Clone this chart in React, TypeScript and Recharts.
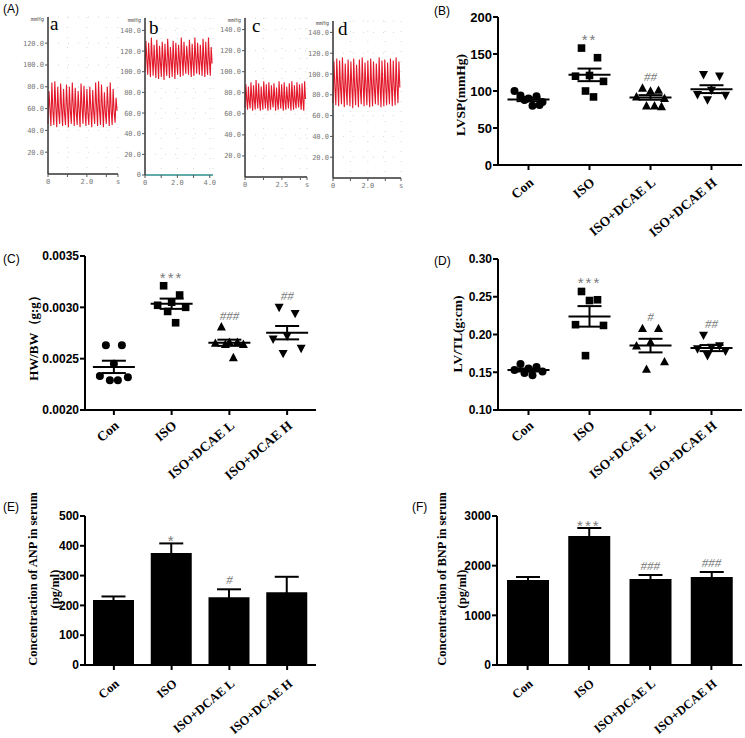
import React from 'react';
import {
  ScatterChart, Scatter, XAxis, YAxis, ErrorBar, ComposedChart, Bar, Line, LineChart, CartesianGrid,
} from 'recharts';

// ---------- data ----------
const categories = ['Con', 'ISO', 'ISO+DCAE L', 'ISO+DCAE H'];

// (A) left-ventricular pressure traces, mmHg (trough, peak, notch per beat)
const traceA = [46,76,60, 44,84,58, 45,85,62, 43,80,57, 46,83,60, 44,78,56, 45,82,61, 43,80,58, 46,84,62, 44,79,57, 45,76,59, 43,83,61,
  46,81,58, 44,78,56, 45,80,60, 43,77,57, 46,84,62, 44,85,59, 45,82,61, 43,75,56, 46,80,60, 44,84,58, 45,78,57, 47,70,58];
const traceB = [100,130,112, 97,128,110, 95,133,113, 96,126,108, 94,131,111, 93,125,109, 95,129,112, 92,127,108, 96,132,113, 94,124,110,
  95,130,111, 93,128,109, 97,126,112, 95,133,114, 96,129,110, 98,125,111, 97,131,112, 95,127,109, 96,133,113, 98,128,111, 97,126,110,
  96,132,112, 95,129,109, 97,133,111, 96,124,108];
const traceC = [66,88,74, 64,86,72, 65,90,75, 63,87,73, 64,92,74, 65,89,72, 63,86,73, 64,91,75, 65,88,72, 63,90,74, 64,87,73, 66,89,75,
  63,85,72, 64,91,74, 65,88,73, 63,90,72, 64,86,74, 65,89,73, 63,91,75, 64,87,72, 65,90,74, 66,88,73, 64,89,72, 63,91,74];
const traceD = [72,112,88, 70,115,90, 69,113,87, 71,116,89, 68,110,86, 70,114,90, 69,112,88, 67,115,87, 70,109,89, 68,114,86, 71,116,90,
  69,111,88, 70,113,87, 68,115,89, 69,112,86, 71,110,90, 70,116,88, 68,113,87, 69,114,89, 70,111,86, 71,115,90, 69,113,88, 70,116,89, 72,112,87];

// (B) LVSP (mmHg)
const lvspCon = [94, 93, 90, 100, 85, 88, 80, 81];
const lvspIso = [158, 145, 121, 120, 113, 100, 92];
const lvspLow = [104, 101, 100, 92, 90, 80, 80, 79];
const lvspHigh = [122, 120, 101, 95, 94, 88];
const lvspMean = [88.6, 121.8, 91.3, 102.5];
const lvspSem = [2.3, 8.5, 3.1, 5.3];
const lvspSig = ['', '**', '##', ''];

// (C) HW/BW (g:g)
const hwCon = [0.00263, 0.00263, 0.00245, 0.00233, 0.00232, 0.00229, 0.00229];
const hwIso = [0.00321, 0.00312, 0.00305, 0.00302, 0.00300, 0.00296, 0.00285];
const hwLow = [0.00281, 0.00266, 0.00266, 0.00265, 0.00264, 0.00264, 0.00251];
const hwHigh = [0.00300, 0.00294, 0.00272, 0.00269, 0.00260, 0.00255];
const hwMean = [0.00242, 0.003035, 0.002655, 0.002753];
const hwSem = [0.00006, 0.00005, 0.00003, 0.000065];
const hwSig = ['', '***', '###', '##'];

// (D) LV/TL (g:cm)
const lvCon = [0.161, 0.157, 0.155, 0.153, 0.151, 0.149, 0.146];
const lvIso = [0.257, 0.246, 0.245, 0.213, 0.212, 0.172];
const lvLow = [0.208, 0.208, 0.190, 0.185, 0.164, 0.154];
const lvHigh = [0.199, 0.185, 0.183, 0.181, 0.178, 0.172];
const lvMean = [0.153, 0.224, 0.1853, 0.182];
const lvSem = [0.002, 0.0136, 0.009, 0.004];
const lvSig = ['', '***', '#', '##'];

// (E) ANP in serum (pg/ml)
const anpMean = [218, 376, 227, 244];
const anpSem = [12, 32, 27, 52];
const anpSig = ['', '*', '#', ''];

// (F) BNP in serum (pg/ml)
const bnpMean = [1711, 2597, 1731, 1772];
const bnpSem = [61, 161, 81, 100];
const bnpSig = ['', '***', '###', '###'];

// ---------- style helpers ----------
const SERIF = "'Liberation Serif', 'Times New Roman', serif";
const SANS = "'Liberation Sans', Arial, sans-serif";
const MONO = "'DejaVu Sans Mono', monospace";
const axisStroke = { stroke: '#000', strokeWidth: 2 };
const JITTER = [-8, 8, 0, -14, 14, -4, 4, 11];

function marker(kind: string, cx: number, cy: number) {
  if (kind === 'circle') return <circle cx={cx} cy={cy} r={4} fill="#000" />;
  if (kind === 'square') return <rect x={cx - 3.8} y={cy - 3.8} width={7.6} height={7.6} fill="#000" />;
  if (kind === 'up') return <polygon points={`${cx},${cy - 4.8} ${cx + 4.5},${cy + 3.6} ${cx - 4.5},${cy + 3.6}`} fill="#000" />;
  return <polygon points={`${cx - 4.5},${cy - 3.6} ${cx + 4.5},${cy - 3.6} ${cx},${cy + 4.8}`} fill="#000" />;
}

function sigText(cx: number, cy: number, label: string, mode: 'dot' | 'bar') {
  if (!label) return null;
  const star = label.startsWith('*');
  const dy = mode === 'dot' ? (star ? -3 : -7) : (star ? 3 : -5);
  return (
    <text x={cx} y={cy + dy} textAnchor="middle" fontFamily={star ? SANS : SERIF}
      fontStyle={star ? 'normal' : 'italic'} fontSize={star ? 15 : 13} fill="#7a7a7a"
      letterSpacing={star ? 2 : 0}>{label}</text>
  );
}

function makeCatTick(fontSize: number, dy: number) {
  return (props: any) => {
    const { x, y, payload } = props;
    const v = payload.value;
    const label = typeof v === 'number' ? categories[v] : v;
    return (
      <g transform={`translate(${x + 6},${y + dy})`}>
        <text x={0} y={0} textAnchor="end" transform="rotate(-40)" fontFamily={SERIF}
          fontWeight="bold" fontSize={fontSize} fill="#000">{label}</text>
      </g>
    );
  };
}

function titleLabel(lines: string[], xs: number[], cys: number[], fontSize: number) {
  return () => (
    <g>
      {lines.map((ln, i) => (
        <text key={i} x={xs[i]} y={cys[i]} transform={`rotate(-90, ${xs[i]}, ${cys[i]})`} textAnchor="middle"
          dominantBaseline="central" fontFamily={SERIF} fontWeight="bold" fontSize={fontSize} fill="#000">{ln}</text>
      ))}
    </g>
  );
}

// ---------- trace panel ----------
type TraceProps = {
  left: number; top: number; width: number; height: number; yWidth: number; mTop: number; mRight: number; xHeight: number;
  values: number[]; dt: number; yMax: number; yTicks: number[]; xMax: number; xTicks: number[]; xLabels: string[];
  letter: string; letterDx: number; letterDy: number; xAxisColor: string;
};

function Trace(p: TraceProps) {
  const data = p.values.map((v, i) => ({ t: i * p.dt, p: v }));
  const plotTop = p.mTop;
  const plotLeft = p.yWidth;
  const label = () => (
    <g>
      <text x={plotLeft - 4} y={plotTop + 4} fontSize={5.5} textAnchor="end" fill="#555" fontFamily={MONO}>mmHg</text>
      <text x={plotLeft + p.letterDx} y={plotTop + p.letterDy} fontSize={19} fontFamily={SERIF} fill="#000">{p.letter}</text>
    </g>
  );
  return (
    <div style={{ position: 'absolute', left: p.left, top: p.top }}>
      <LineChart width={p.width} height={p.height} data={data} margin={{ top: p.mTop, right: p.mRight, bottom: 0, left: 0 }}>
        <CartesianGrid stroke="#d8d8d8" strokeDasharray="1 9" />
        <XAxis type="number" dataKey="t" domain={[0, p.xMax]} ticks={p.xTicks} interval={0} height={p.xHeight}
          tickFormatter={(v: number) => p.xLabels[p.xTicks.indexOf(v)] ?? ''}
          tick={{ fontSize: 7, fill: '#777', fontFamily: MONO }} tickSize={3} tickMargin={2}
          axisLine={{ stroke: p.xAxisColor, strokeWidth: 1.5 }} tickLine={{ stroke: '#555' }} />
        <YAxis type="number" dataKey="p" domain={[0, p.yMax]} ticks={p.yTicks} interval={0} width={p.yWidth}
          tickFormatter={(v: number) => (v === 0 ? '0' : v.toFixed(1))} allowDataOverflow
          tick={{ fontSize: 7, fill: '#777', fontFamily: MONO }} tickSize={3} tickMargin={1}
          axisLine={{ stroke: '#333', strokeWidth: 1.5 }} tickLine={{ stroke: '#555' }} label={label} />
        <Line type="linear" dataKey="p" stroke="#e3192b" strokeWidth={1.1} dot={false} isAnimationActive={false} />
      </LineChart>
    </div>
  );
}

// ---------- dot plot panel ----------
type DotProps = {
  left: number; top: number; width: number; height: number; mTop: number; mRight: number; yWidth: number; xHeight: number;
  domain: [number, number]; ticks: number[]; fmt: (v: number) => string; tickFont: number; catDy: number;
  groups: number[][]; means: number[]; sems: number[]; sig: string[];
  title: string; titleX: number; titleY: number; titleFont: number;
};

function DotPanel(p: DotProps) {
  const kinds = ['circle', 'square', 'up', 'down'];
  const groupData = p.groups.map((vals, g) => vals.map((v, i) => ({ x: g, y: v, i })));
  const meanData = p.means.map((m, g) => ({ x: g, y: m, sem: p.sems[g] }));
  const sigData = p.sig.map((s, g) => ({ x: g, y: Math.max(...p.groups[g]), label: s })).filter((d) => d.label);
  return (
    <div style={{ position: 'absolute', left: p.left, top: p.top }}>
      <ScatterChart width={p.width} height={p.height} margin={{ top: p.mTop, right: p.mRight, bottom: 0, left: 0 }}>
        <XAxis type="number" dataKey="x" domain={[-0.5, 3.5]} ticks={[0, 1, 2, 3]} interval={0} height={p.xHeight}
          tick={makeCatTick(13.5, p.catDy)} tickSize={5} axisLine={axisStroke} tickLine={axisStroke} />
        <YAxis type="number" dataKey="y" domain={p.domain} ticks={p.ticks} interval={0} width={p.yWidth}
          tickFormatter={p.fmt} tick={{ fontSize: p.tickFont, fontWeight: 'bold', fill: '#000', fontFamily: SANS }}
          tickSize={5} tickMargin={1} axisLine={axisStroke} tickLine={axisStroke}
          label={titleLabel([p.title], [p.titleX], [p.titleY], p.titleFont)} />
        {groupData.map((d, g) => (
          <Scatter key={g} data={d} isAnimationActive={false}
            shape={(sp: any) => marker(kinds[g], sp.cx + JITTER[sp.payload.i % JITTER.length], sp.cy)} />
        ))}
        <Scatter data={meanData} isAnimationActive={false}
          shape={(sp: any) => <line x1={sp.cx - 21} x2={sp.cx + 21} y1={sp.cy} y2={sp.cy} stroke="#000" strokeWidth={2} />}>
          <ErrorBar dataKey="sem" direction="y" width={12} stroke="#000" strokeWidth={2} />
        </Scatter>
        <Scatter data={sigData} isAnimationActive={false}
          shape={(sp: any) => sigText(sp.cx, sp.cy, sp.payload.label, 'dot') ?? <g />} />
      </ScatterChart>
    </div>
  );
}

// ---------- bar panel ----------
type BarProps = {
  left: number; top: number; width: number; height: number; mTop: number; mRight: number; yWidth: number; xHeight: number;
  domain: [number, number]; ticks: number[]; tickFont: number; catDy: number; barSize: number;
  means: number[]; sems: number[]; sig: string[];
  titles: string[]; titleXs: number[]; titleYs: number[]; titleFont: number;
};

function BarPanel(p: BarProps) {
  const data = categories.map((c, i) => ({ name: c, mean: p.means[i], sem: p.sems[i], top: p.means[i] + p.sems[i], sig: p.sig[i] }));
  return (
    <div style={{ position: 'absolute', left: p.left, top: p.top }}>
      <ComposedChart width={p.width} height={p.height} data={data} margin={{ top: p.mTop, right: p.mRight, bottom: 0, left: 0 }}>
        <XAxis dataKey="name" type="category" interval={0} height={p.xHeight}
          tick={makeCatTick(12.5, p.catDy)} tickSize={5} axisLine={axisStroke} tickLine={axisStroke} />
        <YAxis type="number" domain={p.domain} ticks={p.ticks} interval={0} width={p.yWidth}
          tick={{ fontSize: p.tickFont, fontWeight: 'bold', fill: '#000', fontFamily: SANS }}
          tickSize={5} tickMargin={1} axisLine={axisStroke} tickLine={axisStroke}
          label={titleLabel(p.titles, p.titleXs, p.titleYs, p.titleFont)} />
        <Bar dataKey="mean" fill="#000" barSize={p.barSize} isAnimationActive={false}>
          <ErrorBar dataKey="sem" direction="y" width={12} stroke="#000" strokeWidth={2} />
        </Bar>
        <Line dataKey="top" stroke="none" isAnimationActive={false} activeDot={false} legendType="none"
          dot={(dp: any) => <g key={`s${dp.index}`}>{sigText(dp.cx, dp.cy, dp.payload.sig, 'bar')}</g>} />
      </ComposedChart>
    </div>
  );
}

const panelLabel = (txt: string, x: number, y: number) => (
  <text x={x} y={y} fontFamily={SANS} fontSize={12} fill="#000">{txt}</text>
);

export default function App() {
  return (
    <div style={{ position: 'absolute', left: 0, top: 0, width: 745, height: 738, background: '#fff', overflow: 'hidden' }}>
      <svg width={745} height={738} style={{ position: 'absolute', left: 0, top: 0 }}>
        {panelLabel('(A)', 3, 13)}
        {panelLabel('(B)', 434, 15)}
        {panelLabel('(C)', 3, 263)}
        {panelLabel('(D)', 434, 265)}
        {panelLabel('(E)', 3, 511)}
        {panelLabel('(F)', 412, 511)}
      </svg>

      <Trace left={0} top={7} width={125} height={180} yWidth={48} mTop={10} mRight={7} xHeight={13}
        values={traceA} dt={0.05} yMax={144} yTicks={[20, 40, 60, 80, 100, 120]} xMax={3.6}
        xTicks={[0, 1, 2, 3, 3.6]} xLabels={['0', '', '2.0', '', 's']} letter="a" letterDx={2} letterDy={13} xAxisColor="#333" />
      <Trace left={100} top={7} width={120} height={181} yWidth={45} mTop={11} mRight={7} xHeight={13}
        values={traceB} dt={0.056} yMax={152} yTicks={[0, 20, 40, 60, 80, 100, 120, 140]} xMax={4.2}
        xTicks={[0, 1, 2, 3, 4]} xLabels={['0', '', '2.0', '', '4.0']} letter="b" letterDx={4} letterDy={16} xAxisColor="#2f8f8f" />
      <Trace left={200} top={7} width={115} height={183} yWidth={45} mTop={11} mRight={8} xHeight={13}
        values={traceC} dt={0.0577} yMax={151} yTicks={[20, 40, 60, 80, 100, 120, 140]} xMax={4.2}
        xTicks={[0, 1.25, 2.5, 3.75, 4.2]} xLabels={['0', '', '2.5', '', 's']} letter="c" letterDx={7} letterDy={14} xAxisColor="#333" />
      <Trace left={288} top={7} width={120} height={184} yWidth={45} mTop={14} mRight={7} xHeight={13}
        values={traceD} dt={0.054} yMax={151} yTicks={[20, 40, 60, 80, 100, 120, 140]} xMax={3.9}
        xTicks={[0, 1, 2, 3, 3.9]} xLabels={['0', '', '2.0', '', 's']} letter="d" letterDx={5} letterDy={14} xAxisColor="#333" />

      <DotPanel left={380} top={0} width={365} height={250} mTop={17} mRight={3} yWidth={118} xHeight={85}
        domain={[0, 200]} ticks={[0, 50, 100, 150, 200]} fmt={(v) => String(v)} tickFont={13} catDy={12}
        groups={[lvspCon, lvspIso, lvspLow, lvspHigh]} means={lvspMean} sems={lvspSem} sig={lvspSig}
        title="LVSP(mmHg)" titleX={80} titleY={95} titleFont={13.5} />

      <DotPanel left={0} top={240} width={330} height={260} mTop={16} mRight={14} yWidth={85} xHeight={90}
        domain={[0.002, 0.0035]} ticks={[0.002, 0.0025, 0.003, 0.0035]} fmt={(v) => v.toFixed(4)} tickFont={12} catDy={10}
        groups={[hwCon, hwIso, hwLow, hwHigh]} means={hwMean} sems={hwSem} sig={hwSig}
        title="HW/BW（g:g）" titleX={33} titleY={95} titleFont={13} />

      <DotPanel left={380} top={240} width={365} height={260} mTop={19} mRight={3} yWidth={118} xHeight={90}
        domain={[0.1, 0.3]} ticks={[0.1, 0.15, 0.2, 0.25, 0.3]} fmt={(v) => v.toFixed(2)} tickFont={12} catDy={10}
        groups={[lvCon, lvIso, lvLow, lvHigh]} means={lvMean} sems={lvSem} sig={lvSig}
        title="LV/TL(g:cm)" titleX={77} titleY={94} titleFont={13.5} />

      <BarPanel left={0} top={488} width={330} height={250} mTop={28} mRight={14} yWidth={85} xHeight={73}
        domain={[0, 500]} ticks={[0, 100, 200, 300, 400, 500]} tickFont={12} catDy={13} barSize={41}
        means={anpMean} sems={anpSem} sig={anpSig}
        titles={['Concentraction of ANP in serum', '(pg/ml)']} titleXs={[33, 55]} titleYs={[91, 101]} titleFont={12.5} />

      <BarPanel left={380} top={488} width={365} height={250} mTop={28} mRight={3} yWidth={117} xHeight={73}
        domain={[0, 3000]} ticks={[0, 1000, 2000, 3000]} tickFont={12} catDy={13} barSize={42}
        means={bnpMean} sems={bnpSem} sig={bnpSig}
        titles={['Concentraction of BNP in serum', '(pg/ml)']} titleXs={[62, 82]} titleYs={[91, 101]} titleFont={12.5} />
    </div>
  );
}
